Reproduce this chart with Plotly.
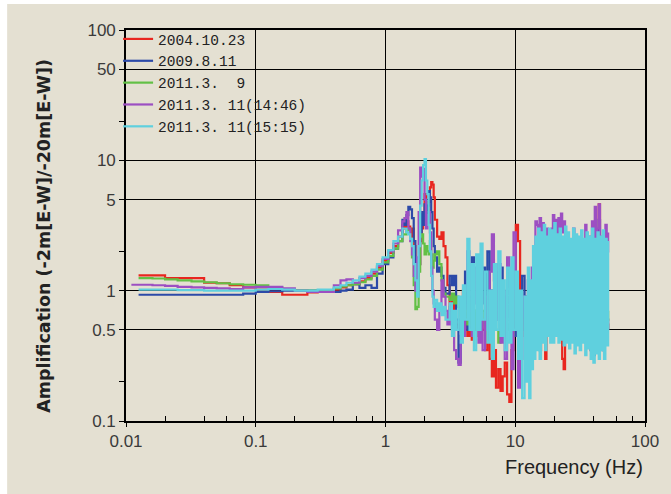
import plotly.graph_objects as go

# ---------------- data ----------------
freq_low = [0.011, 0.0125, 0.016, 0.02, 0.025, 0.032, 0.04, 0.05, 0.063, 0.08,
            0.1, 0.125, 0.16, 0.2, 0.25, 0.3]
freq_mid = [0.35, 0.4, 0.45, 0.5, 0.56, 0.63, 0.7, 0.78, 0.86, 0.95, 1.05, 1.15, 1.25, 1.35]
freq_peak = [1.4, 1.45, 1.5, 1.55, 1.6, 1.65, 1.7, 1.75, 1.8, 1.85, 1.9, 1.95, 2.0, 2.05,
             2.1, 2.15, 2.2, 2.25, 2.3, 2.35, 2.4, 2.5, 2.6, 2.7, 2.8, 2.9]
freq_noisy = [3.0, 3.12, 3.25, 3.38, 3.5, 3.65, 3.8, 3.95, 4.1, 4.27, 4.44, 4.62, 4.8, 5.0,
              5.2, 5.4, 5.6, 5.85, 6.1, 6.35, 6.6, 6.85, 7.1, 7.4, 7.7, 8.0, 8.3, 8.65,
              9.0, 9.35, 9.7, 10.1, 10.5, 10.9, 11.3, 11.8]
freq_dense = [12.2, 12.5, 12.8, 13.1, 13.4, 13.7, 14.0, 14.3, 14.7, 15.0,
              15.4, 15.8, 16.2, 16.6, 17.0, 17.4, 17.8, 18.2, 18.6, 19.1,
              19.5, 20.0, 20.5, 21.0, 21.5, 22.0, 22.5, 23.0, 23.6, 24.2,
              24.8, 25.4, 26.0, 26.6, 27.2, 27.9, 28.6, 29.3, 30.0, 30.7,
              31.4, 32.2, 33.0, 33.8, 34.6, 35.4, 36.3, 37.2, 38.1, 39.0,
              40.0, 41.0, 42.0, 43.0, 44.0, 45.0, 46.1, 47.2, 48.3, 49.5,
              50.7, 52.0]

# 2004.10.23 (red)
red_low = [None, 1.31, 1.31, 1.25, 1.25, 1.25, 1.15, 1.14, 1.10, 1.06, 1.02, 0.98, 0.93, 0.93, 0.97, 1.0]
red_mid = [1.0, 1.02, 1.06, 1.1, 1.12, 1.18, 1.25, 1.35, 1.5, 1.7, 1.95, 2.2, 2.6, 3.2]
red_peak = [3.0, 3.4, 3.1, 2.6, 3.0, 2.2, 1.6, 1.3, 1.6, 2.4, 3.0, 4.0, 5.5, 4.2, 3.6, 4.8,
            6.2, 6.8, 6.5, 5.2, 3.5, 2.6, 2.5, 2.8, 2.2, 1.8]
red_noisy = [1.1, 0.7, 0.9, 0.6, 0.55, 0.5, 0.85, 1.0, 0.55, 0.45, 0.6, 0.42, 0.5, 0.7, 0.45,
             0.6, 0.5, 0.35, 0.55, 0.3, 0.22, 0.35, 0.18, 0.25, 0.17, 0.22, 0.28, 0.16, 0.14,
             0.35, 1.2, 3.2, 2.4, 0.8, 0.6, 0.45]
red_dense = [0.5, 0.6, 0.45, 0.55, 0.7, 0.45, 0.5, 0.4, 0.6, 0.5,
             0.35, 0.55, 0.65, 0.45, 0.3, 0.6, 0.5, 0.55, 0.45, 0.6,
             0.55, 0.5, 0.65, 0.45, 0.55, 0.6, 0.5, 0.3, 0.25, 0.45,
             0.6, 0.5, 0.55, 0.45, 0.6, 0.5, 0.45, 0.55, 0.5, 0.4,
             0.55, 0.5, 0.45, 0.6, 0.5, 0.55, 0.45, 0.5, 0.6, 0.5,
             0.45, 0.55, 0.5, 0.4, 4.6, 0.55, 0.45, 0.5, 0.6, 0.5,
             0.55, 0.5]

# 2009.8.11 (blue)
blue_low = [None, 0.93, 0.93, 0.93, 0.93, 0.93, 0.93, 0.93, 0.93, 0.95, 0.98, 0.99, 1.0, 1.0, 1.0, 1.0]
blue_mid = [1.0, 0.98, 1.0, 1.02, 1.12, 1.05, 1.1, 1.05, 1.35, 1.6, 1.8, 2.1, 2.4, 3.5]
blue_peak = [3.2, 3.8, 4.4, 4.2, 3.6, 2.4, 1.4, 1.0, 1.6, 2.8, 4.0, 3.2, 4.6, 3.5, 4.5, 5.8,
             5.2, 4.0, 3.0, 2.2, 1.8, 1.4, 1.5, 1.3, 1.05, 0.95]
blue_noisy = [0.95, 1.3, 1.1, 1.3, 0.6, 0.28, 0.45, 0.8, 1.4, 0.5, 0.9, 1.8, 0.7, 0.5, 1.2,
              0.8, 1.5, 0.6, 2.0, 1.0, 0.55, 0.9, 1.4, 0.6, 1.5, 0.9, 0.5, 0.7, 1.0, 0.6,
              0.45, 1.1, 0.8, 0.5, 1.3, 0.55]
blue_dense = [0.9, 0.5, 1.1, 0.6, 0.8, 0.45, 1.2, 0.7, 0.9, 0.5,
              1.0, 0.6, 1.3, 0.55, 0.9, 0.7, 1.5, 0.6, 1.0, 0.5,
              1.2, 0.8, 2.6, 1.0, 0.7, 1.4, 0.6, 1.0, 0.5, 0.9,
              0.7, 1.1, 0.55, 0.8, 0.6, 1.2, 0.5, 0.8, 0.6, 1.0,
              0.5, 0.7, 0.45, 0.6, 0.5, 0.8, 0.55, 0.4, 0.35, 0.45,
              0.32, 0.4, 0.6, 2.5, 3.5, 2.0, 0.9, 0.35, 0.5, 0.4,
              0.6, 0.5]

# 2011.3.9 (green)
green_low = [None, 1.25, 1.24, 1.22, 1.2, 1.18, 1.16, 1.14, 1.12, 1.11, 1.10, 1.06, 1.03, 1.01, 1.0, 1.0]
green_mid = [1.0, 1.04, 1.08, 1.1, 1.12, 1.16, 1.22, 1.3, 1.45, 1.65, 1.85, 2.1, 2.4, 2.7]
green_peak = [2.7, 2.9, 3.0, 2.5, 1.8, 1.1, 0.72, 0.75, 1.4, 2.6, 2.7, 2.3, 1.9, 2.2, 2.0, 1.9,
              2.4, 1.9, 1.5, 1.7, 1.9, 2.0, 1.6, 1.2, 0.95, 0.9]
green_noisy = [0.9, 0.85, 0.95, 0.8, 0.9, 0.75, 0.65, 0.85, 0.7, 0.55, 0.8, 0.6, 0.7, 0.5, 0.65,
               0.55, 0.7, 0.5, 0.6, 0.45, 0.55, 0.6, 0.5, 0.4, 0.55, 0.45, 0.6, 0.5, 0.55, 0.45,
               0.6, 0.7, 0.55, 0.65, 0.5, 0.6]
green_dense = [0.7, 0.8, 0.6, 0.9, 0.65, 0.75, 0.55, 0.85, 0.6, 0.7,
               0.8, 0.6, 0.75, 0.65, 0.9, 0.6, 0.7, 0.8, 0.55, 0.75,
               0.65, 0.85, 0.6, 0.7, 0.75, 0.6, 0.8, 0.65, 0.7, 0.55,
               0.75, 0.6, 0.7, 0.8, 0.6, 0.65, 0.75, 0.55, 0.7, 0.6,
               0.8, 0.65, 0.7, 0.6, 0.75, 0.55, 0.7, 0.65, 0.8, 0.6,
               0.7, 0.75, 0.6, 0.65, 0.7, 0.55, 0.75, 0.6, 0.7, 0.65,
               0.6, 0.7]

# 2011.3.11 (14:46) (purple)
purple_low = [1.11, 1.11, 1.10, 1.09, 1.07, 1.06, 1.05, 1.04, 1.03, 1.06, 1.07, 1.07, 1.04, 1.0, 0.98, 0.98]
purple_mid = [0.98, 1.1, 1.2, 1.22, 1.15, 1.25, 1.3, 1.4, 1.55, 1.75, 2.0, 2.3, 2.9, 3.4]
purple_peak = [3.6, 4.0, 3.0, 2.4, 1.9, 1.3, 1.0, 1.8, 4.0, 8.8, 7.5, 8.6, 5.0, 3.0, 3.8, 4.0,
               2.8, 1.5, 1.0, 0.8, 0.6, 0.5, 0.75, 1.2, 0.9, 0.7]
purple_noisy = [0.55, 0.75, 0.5, 0.35, 0.3, 0.27, 0.6, 0.45, 1.0, 2.0, 0.7, 0.45, 1.5, 0.8, 0.4,
                0.6, 0.35, 0.9, 0.5, 1.4, 2.7, 1.2, 0.6, 1.6, 0.4, 1.0, 0.3, 1.8, 0.6, 0.25,
                2.8, 1.0, 0.18, 0.5, 0.9, 0.3]
purple_dense = [0.6, 1.2, 0.4, 0.8, 1.5, 0.5, 1.0, 3.4, 3.2, 1.5,
                3.6, 2.8, 3.3, 1.2, 2.5, 3.0, 0.8, 2.2, 1.5, 3.0,
                3.8, 2.0, 3.5, 2.6, 3.6, 1.4, 3.9, 2.8, 3.4, 1.8,
                2.5, 1.2, 2.2, 0.8, 1.6, 3.0, 1.4, 2.6, 1.0, 2.0,
                0.6, 1.5, 2.3, 1.0, 3.2, 2.0, 1.1, 2.6, 1.6, 3.4,
                2.2, 4.4, 1.5, 3.0, 4.6, 2.6, 0.4, 0.5, 2.4, 3.2,
                2.0, 2.8]

# 2011.3.11 (15:15) (cyan)
cyan_low = [None, 1.02, 1.02, 1.02, 1.01, 1.01, 1.0, 1.0, 1.0, 1.0, 1.02, 1.03, 1.02, 1.0, 1.0, 1.02]
cyan_mid = [1.02, 1.06, 1.1, 1.15, 1.2, 1.28, 1.35, 1.45, 1.6, 1.8, 2.05, 2.4, 2.6, 3.0]
cyan_peak = [3.0, 2.8, 2.7, 2.5, 2.2, 1.6, 1.2, 0.9, 2.2, 4.5, 7.0, 9.2, 10.2, 7.0, 5.5, 3.2,
             2.0, 1.3, 0.9, 0.75, 0.85, 0.7, 0.8, 0.65, 0.75, 0.6]
cyan_noisy = [0.6, 0.8, 0.45, 0.7, 0.5, 0.9, 0.4, 1.1, 0.6, 2.5, 0.5, 1.6, 0.35, 1.9, 0.5,
              2.3, 0.6, 1.4, 0.4, 1.0, 0.3, 1.6, 0.5, 2.0, 0.45, 1.2, 0.35, 1.5, 0.4, 1.8,
              0.5, 1.4, 0.3, 1.0, 0.15, 0.9]
cyan_dense = [0.2, 1.5, 0.15, 1.2, 0.25, 2.2, 0.3, 2.6, 0.35, 3.0,
              0.3, 2.8, 0.4, 3.2, 0.35, 2.6, 0.45, 3.0, 0.4, 2.9,
              0.4, 3.3, 0.45, 2.7, 0.4, 3.0, 0.42, 2.6, 0.38, 3.1,
              0.4, 2.8, 0.36, 2.5, 0.4, 3.0, 0.33, 2.7, 0.38, 2.6,
              0.35, 2.9, 0.4, 2.5, 0.32, 2.8, 0.36, 2.6, 0.3, 3.0,
              0.28, 2.5, 0.33, 2.8, 0.3, 2.6, 0.35, 2.9, 0.3, 2.5,
              0.38, 2.4]

series_names = ["2004.10.23", "2009.8.11", "2011.3.\u00a0\u00a09",
                "2011.3.\u00a011(14:46)", "2011.3.\u00a011(15:15)"]
series_colors = ["#e8261f", "#2c4aa8", "#62c046", "#9c4fc2", "#5fd0de"]

x_tickvals = [0.01, 0.1, 1, 10, 100]
x_ticktext = ["0.01", "0.1", "1", "10", "100"]
x_minor = [0.02, 0.04, 0.06, 0.08, 0.2, 0.4, 0.6, 0.8, 2, 4, 6, 8, 20, 40, 60, 80]
y_tickvals = [0.1, 0.5, 1, 5, 10, 50, 100]
y_ticktext = ["0.1", "0.5", "1", "5", "10", "50", "100"]
y_minor = [0.2, 2, 20]

# ---------------- build ----------------
freq_hz = freq_low + freq_mid + freq_peak + freq_noisy + freq_dense
series_values = [
    red_low + red_mid + red_peak + red_noisy + red_dense,
    blue_low + blue_mid + blue_peak + blue_noisy + blue_dense,
    green_low + green_mid + green_peak + green_noisy + green_dense,
    purple_low + purple_mid + purple_peak + purple_noisy + purple_dense,
    cyan_low + cyan_mid + cyan_peak + cyan_noisy + cyan_dense,
]

fig = go.Figure()
for name, color, vals in zip(series_names, series_colors, series_values):
    assert len(vals) == len(freq_hz), (name, len(vals), len(freq_hz))
    fig.add_trace(go.Scatter(
        x=freq_hz, y=vals, mode="lines", name=name,
        line=dict(color=color, width=2.2, shape="hv"),
    ))

BG = "#e4e0d2"
W, H = 671, 494
L, R, T, B = 126, 21, 30, 73
pw, ph = W - L - R, H - T - B

def px_x(p):
    return (p - L) / pw

def px_y(p):
    return (H - B - p) / ph

fig.update_layout(
    width=W, height=H,
    margin=dict(l=L, r=R, t=T, b=B),
    paper_bgcolor=BG, plot_bgcolor=BG,
    showlegend=True,
    legend=dict(x=px_x(118), y=px_y(23), xanchor="left", yanchor="top",
                bgcolor="rgba(0,0,0,0)", borderwidth=0,
                font=dict(family="Liberation Mono", size=14.5, color="#222"),
                tracegroupgap=0, itemwidth=30),
    shapes=[
        dict(type="rect", xref="paper", yref="paper", layer="below",
             x0=px_x(-5), x1=px_x(W + 5), y0=px_y(4), y1=px_y(-5),
             fillcolor="white", line=dict(width=0)),
        dict(type="rect", xref="paper", yref="paper", layer="below",
             x0=px_x(-5), x1=px_x(6), y0=px_y(H + 5), y1=px_y(-5),
             fillcolor="white", line=dict(width=0)),
    ],
    annotations=[
        dict(text="Amplification (-2m[E-W]/-20m[E-W])", textangle=-90,
             xref="paper", yref="paper", x=px_x(43), y=px_y(236),
             xanchor="center", yanchor="middle", showarrow=False,
             font=dict(family="DejaVu Sans", size=17.5, color="#222", weight="bold")),
        dict(text="Frequency (Hz)", xref="paper", yref="paper",
             x=px_x(650), y=px_y(467), xanchor="right", yanchor="middle",
             showarrow=False,
             font=dict(family="Liberation Sans", size=20, color="#222")),
    ],
)

fig.update_xaxes(
    type="log", range=[-2, 2],
    tickvals=x_tickvals, ticktext=x_ticktext,
    showgrid=True, gridcolor="black", gridwidth=1.4,
    showline=True, linecolor="black", linewidth=1.6, mirror=True,
    ticks="outside", ticklen=4, tickcolor="black", tickwidth=1.3,
    tickfont=dict(family="Liberation Sans", size=17, color="#3a3a3a"),
    minor=dict(tickvals=x_minor, ticks="inside", ticklen=5, tickcolor="black",
               tickwidth=1.3, showgrid=False),
    zeroline=False,
)
fig.update_yaxes(
    type="log", range=[-1, 2],
    tickvals=y_tickvals, ticktext=y_ticktext,
    showgrid=True, gridcolor="black", gridwidth=1.4,
    showline=True, linecolor="black", linewidth=1.6, mirror=True,
    ticks="outside", ticklen=5, tickcolor="black", tickwidth=1.3,
    tickfont=dict(family="Liberation Sans", size=17, color="#3a3a3a"),
    minor=dict(tickvals=y_minor, ticks="outside", ticklen=5, tickcolor="black",
               tickwidth=1.3, showgrid=False),
    zeroline=False,
)

fig.write_html("out.html")
